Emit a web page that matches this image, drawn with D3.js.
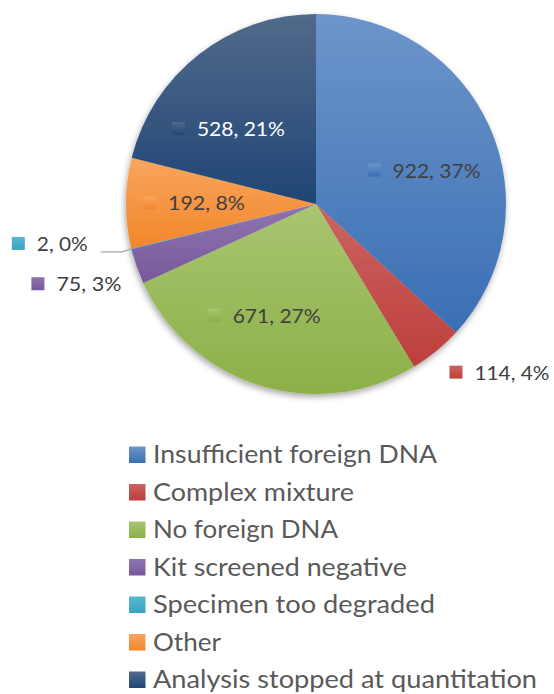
<!DOCTYPE html>
<html>
<head>
<meta charset="utf-8">
<script src="https://cdn.jsdelivr.net/npm/d3@7"></script>
<style>
  html, body { margin: 0; padding: 0; background: #ffffff; }
  svg { display: block; }
</style>
</head>
<body>
<script>
// ---- data ----
const categories = [
  "Insufficient foreign DNA",
  "Complex mixture",
  "No foreign DNA",
  "Kit screened negative",
  "Specimen too degraded",
  "Other",
  "Analysis stopped at quantitation"
];
const values = [922, 114, 671, 75, 2, 192, 528];
const percentLabels = ["37%", "4%", "27%", "3%", "0%", "8%", "21%"];

// ---- styles ----
const colorTop    = ["#6d95ca", "#cb6461", "#a9c570", "#8d75b0", "#5ab8d1", "#f9a55f", "#526a8b"];
const colorBottom = ["#3a6fb4", "#bd3f3c", "#8cb048", "#78599c", "#38a3c0", "#f2872a", "#1f4576"];
const labelColor  = ["#404040", "#404040", "#404040", "#404040", "#404040", "#404040", "#ffffff"];

// label placement (polar radius + nudge), layout only
const labelRadius = [118, 241, 118, 241, 241, 118, 118];
const labelNudge  = [[0, 14], [31, -18], [-17, -1], [-12, 1], [-32, -17], [-4, 0], [-15, 18]];
const labelTextW  = [88, 75, 88, 65, 51, 77, 88];
const legendTextW = [284, 201, 185, 254, 282, 68, 384];

const W = 554, H = 694;
const cx = 316, cy = 204, R = 190;

const svg = d3.select("body").append("svg")
  .attr("width", W).attr("height", H);

const defs = svg.append("defs");
categories.forEach((c, i) => {
  const g = defs.append("linearGradient")
    .attr("id", "grad" + i)
    .attr("x1", 0).attr("y1", 0).attr("x2", 0).attr("y2", 1);
  g.append("stop").attr("offset", "0%").attr("stop-color", colorTop[i]);
  g.append("stop").attr("offset", "100%").attr("stop-color", colorBottom[i]);
});
const f = defs.append("filter").attr("id", "shadow")
  .attr("x", "-20%").attr("y", "-20%").attr("width", "140%").attr("height", "140%");
f.append("feDropShadow")
  .attr("dx", -1).attr("dy", 3).attr("stdDeviation", 3)
  .attr("flood-color", "#000").attr("flood-opacity", 0.35);

const pie = d3.pie().sort(null).value(d => d);
const arcs = pie(values);
const arc = d3.arc().innerRadius(0).outerRadius(R);

const pieG = svg.append("g").attr("transform", `translate(${cx},${cy})`);
pieG.append("g").attr("filter", "url(#shadow)")
  .selectAll("path")
  .data(arcs)
  .enter().append("path")
  .attr("d", arc)
  .attr("fill", (d, i) => `url(#grad${i})`);

// ---- data labels ----
const labelG = svg.append("g");
arcs.forEach((d, i) => {
  const mid = (d.startAngle + d.endAngle) / 2;
  const lx = cx + Math.sin(mid) * labelRadius[i] + labelNudge[i][0];
  const ly = cy - Math.cos(mid) * labelRadius[i] + labelNudge[i][1];
  const tw = labelTextW[i];
  const total = 13 + 12 + tw;
  const left = lx - total / 2;
  labelG.append("rect")
    .attr("x", left).attr("y", ly - 7)
    .attr("width", 13).attr("height", 13)
    .attr("fill", `url(#grad${i})`);
  labelG.append("text")
    .attr("x", left + 25).attr("y", ly + 7)
    .attr("font-family", "Lato, 'Open Sans', sans-serif")
    .attr("font-size", 20)
    .attr("fill", labelColor[i])
    .attr("textLength", tw)
    .attr("lengthAdjust", "spacingAndGlyphs")
    .text(values[i] + ", " + percentLabels[i]);

  if (i === 4) {
    // leader line for tiny slice
    const ex = cx + Math.sin(mid) * R;
    const ey = cy - Math.cos(mid) * R;
    const sx = left + total + 13;
    const sy = ly + 8;
    labelG.append("path")
      .attr("d", `M${sx},${sy}L${ex - 9},${sy}L${ex},${ey}`)
      .attr("fill", "none")
      .attr("stroke", "#a6a6a6")
      .attr("stroke-width", 1.3);
  }
});

// ---- legend ----
const legend = svg.append("g");
categories.forEach((c, i) => {
  const base = 463 + i * 37.5;
  legend.append("rect")
    .attr("x", 129).attr("y", base - 16.5)
    .attr("width", 16.5).attr("height", 16.5)
    .attr("fill", `url(#grad${i})`);
  legend.append("text")
    .attr("x", 153).attr("y", base)
    .attr("font-family", "Lato, 'Open Sans', sans-serif")
    .attr("font-size", 25)
    .attr("fill", "#595959")
    .attr("textLength", legendTextW[i])
    .attr("lengthAdjust", "spacingAndGlyphs")
    .text(c);
});
</script>
</body>
</html>
